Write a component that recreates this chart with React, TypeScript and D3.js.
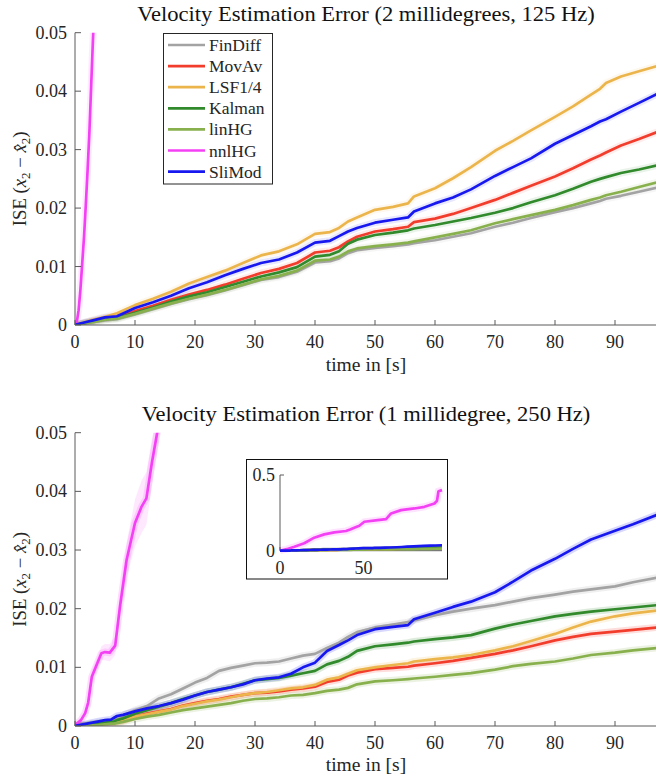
import React from 'react';
import * as d3 from 'd3';

const seriesNames = ['FinDiff', 'MovAv', 'LSF1/4', 'Kalman', 'linHG', 'nnlHG', 'SliMod'];
const seriesColors = ['#a3a3a3', '#f23d2d', '#ebb54c', '#318a2b', '#88b14d', '#f440f4', '#1717f0'];

const xTicks = [0, 10, 20, 30, 40, 50, 60, 70, 80, 90];
const yTicks = [0, 0.01, 0.02, 0.03, 0.04, 0.05];
const yTickLabels = ['0', '0.01', '0.02', '0.03', '0.04', '0.05'];

// ---- Top panel (2 millidegrees, 125 Hz)
const timeTop = [0, 1, 3, 5, 7, 10, 13, 16, 19, 22, 25, 28, 31, 34, 37, 40, 42.5, 44, 45.5, 47, 50, 53, 55.5, 56.5, 60, 63, 66, 70, 73, 76, 80, 83, 86, 87.5, 88.5, 91, 94, 97];
const finDiffTop = [0, .0002, .0005, .0008, .0010, .0018, .0027, .0036, .0044, .0051, .0059, .0068, .0077, .0082, .0091, .0107, .0109, .0114, .0123, .0128, .0132, .0135, .0138, .0140, .0145, .0151, .0157, .0168, .0175, .0183, .0193, .0200, .0208, .0212, .0216, .0221, .0228, .0235];
const movAvTop = [0, .0002, .0007, .0011, .0014, .0024, .0033, .0043, .0052, .0060, .0069, .0079, .0089, .0096, .0106, .0124, .0127, .0133, .0143, .0151, .0160, .0164, .0168, .0176, .0182, .0190, .0200, .0214, .0226, .0238, .0254, .0268, .0283, .0290, .0295, .0307, .0318, .0330];
const lsfTop = [0, .0003, .0009, .0014, .0020, .0034, .0045, .0057, .0071, .0082, .0093, .0106, .0119, .0126, .0138, .0156, .0159, .0166, .0177, .0184, .0197, .0202, .0208, .0220, .0234, .0251, .0270, .0298, .0315, .0333, .0356, .0374, .0394, .0404, .0414, .0425, .0434, .0443];
const kalmanTop = [0, .0002, .0006, .0010, .0012, .0021, .0030, .0040, .0049, .0056, .0065, .0074, .0083, .0090, .0099, .0117, .0120, .0126, .0139, .0146, .0154, .0158, .0162, .0165, .0171, .0177, .0183, .0192, .0200, .0210, .0222, .0233, .0245, .0250, .0253, .0260, .0266, .0273];
const linHGTop = [0, .0002, .0005, .0009, .0011, .0019, .0028, .0037, .0045, .0052, .0060, .0069, .0078, .0084, .0093, .0110, .0112, .0117, .0126, .0131, .0135, .0138, .0141, .0143, .0150, .0156, .0162, .0174, .0181, .0188, .0197, .0205, .0214, .0218, .0222, .0228, .0236, .0244];
const sliModTop = [0, .0003, .0008, .0013, .0015, .0029, .0039, .0050, .0063, .0073, .0085, .0096, .0106, .0112, .0124, .0141, .0144, .0152, .0160, .0166, .0175, .0180, .0184, .0194, .0208, .0218, .0232, .0255, .0270, .0285, .0310, .0325, .0340, .0348, .0352, .0365, .0380, .0395];
const nnlTimeTop = [0, 0.3, 0.6, 0.9, 1.2, 1.5, 1.8, 2.1, 2.4, 2.7, 3.0, 3.5];
const nnlHGTop = [0, 0.0005, 0.0025, 0.0060, 0.0105, 0.0150, 0.0205, 0.0265, 0.0330, 0.0410, 0.0490, 0.0600];

// ---- Bottom panel (1 millidegree, 250 Hz)
const timeBottom = [0, 2, 4, 5, 6, 6.5, 7, 8, 10, 12, 14, 16, 18, 20, 22, 24, 26, 28, 30, 32, 34, 36, 38, 40, 42, 44, 45.5, 47, 50, 53, 55.5, 56.5, 60, 63, 66, 70, 73, 76, 80, 83, 86, 90, 93, 97];
const finDiffBottom = [0, .0002, .0005, .0006, .0008, .0010, .0013, .0018, .0027, .0034, .0047, .0054, .0064, .0074, .0082, .0094, .0099, .0103, .0107, .0108, .0110, .0115, .0120, .0123, .0133, .0142, .0152, .0160, .0168, .0173, .0177, .0180, .0189, .0195, .0200, .0206, .0212, .0218, .0224, .0229, .0233, .0238, .0245, .0253];
const movAvBottom = [0, .0001, .0003, .0004, .0005, .0006, .0007, .0009, .0016, .0021, .0025, .0029, .0035, .0039, .0043, .0046, .0050, .0053, .0056, .0057, .0059, .0062, .0064, .0067, .0075, .0079, .0086, .0091, .0097, .0099, .0101, .0103, .0107, .0111, .0116, .0123, .0129, .0136, .0146, .0152, .0157, .0161, .0164, .0168];
const lsfBottom = [0, .0001, .0003, .0004, .0005, .0006, .0007, .0009, .0016, .0020, .0024, .0028, .0034, .0038, .0042, .0045, .0049, .0053, .0056, .0058, .0061, .0064, .0066, .0070, .0079, .0083, .0089, .0095, .0100, .0104, .0107, .0110, .0114, .0117, .0121, .0129, .0136, .0145, .0157, .0168, .0178, .0187, .0192, .0197];
const kalmanBottom = [0, .0002, .0005, .0006, .0007, .0008, .0010, .0013, .0021, .0027, .0033, .0039, .0046, .0052, .0058, .0062, .0066, .0072, .0078, .0080, .0082, .0086, .0090, .0094, .0105, .0111, .0118, .0128, .0136, .0139, .0142, .0144, .0148, .0151, .0155, .0166, .0173, .0179, .0187, .0191, .0195, .0199, .0202, .0206];
const linHGBottom = [0, .0001, .0002, .0003, .0004, .0004, .0005, .0007, .0012, .0016, .0019, .0023, .0027, .0030, .0033, .0036, .0039, .0043, .0046, .0047, .0049, .0052, .0053, .0056, .0060, .0062, .0065, .0071, .0076, .0078, .0080, .0081, .0084, .0087, .0090, .0096, .0102, .0106, .0110, .0115, .0121, .0125, .0129, .0133];
const sliModBottom = [0, .0004, .0008, .0010, .0011, .0014, .0017, .0019, .0025, .0030, .0034, .0039, .0045, .0052, .0058, .0062, .0066, .0071, .0078, .0081, .0083, .0089, .0100, .0108, .0128, .0138, .0146, .0155, .0165, .0169, .0172, .0182, .0193, .0203, .0212, .0228, .0246, .0265, .0285, .0302, .0318, .0333, .0344, .0360];
const nnlTimeBottom = [0, 0.5, 1.0, 1.7, 2.2, 2.8, 3.6, 4.4, 5.0, 5.8, 6.7, 7.5, 8.6, 10.0, 11.1, 11.9, 12.8, 13.7, 14.5];
const nnlHGBottom = [0, .0006, .0010, .0022, .0040, .0084, .0104, .0124, .0126, .0125, .0137, .0204, .0283, .0346, .0374, .0388, .0448, .0500, .0560];
const nnlHGBottomSpread = [0, .0003, .0005, .0006, .0008, .0010, .0010, .0012, .0014, .0015, .0016, .0020, .0030, .0040, .0045, .0045, .0040, .0035, .0035];

// ---- Inset (full range of nnlHG, bottom panel)
const nnlTimeInset = [0, 4, 8.6, 14.5, 20.5, 26.5, 32.5, 39.5, 42, 44.5, 47.5, 50.5, 58.5, 63.5, 66.5, 72.5, 80.5, 86.5, 92.5, 94, 94.9, 97];
const nnlHGInset = [0, .010, .026, .049, .086, .108, .121, .130, .140, .152, .165, .191, .202, .209, .246, .268, .279, .290, .312, .330, .393, .400];
const insetXTicks = [0, 50];
const insetYTicks = [0, 0.5];
const insetYTickLabels = ['0', '0.5'];

const FONT = "'Liberation Serif', 'Times New Roman', serif";
const TXT = '#262626';
const AXIS = '#5a5a5a';

type Pt = [number, number];
const zip = (t: number[], v: number[]): Pt[] => t.map((x, i) => [x, v[i]]);

function T(props: { x: number; y: number; size: number; sx?: number; anchor?: string; fill?: string; rotate?: number; children: React.ReactNode }) {
  const { x, y, size, sx = 1, anchor = 'start', fill = TXT, rotate = 0 } = props;
  return (
    <text transform={`translate(${x},${y}) rotate(${rotate}) scale(${sx},1)`} textAnchor={anchor as any}
      fontSize={size} fill={fill} fontFamily={FONT}>{props.children}</text>
  );
}

function Panel(props: {
  id: string; y0: number; y1: number; title: string; titleY: number; xLabelY: number;
  series: number[][]; time: number[]; nnlTime: number[]; nnl: number[]; nnlSpread?: number[];
  haloOpacity: number; children?: React.ReactNode;
}) {
  const { id, y0, y1, title, titleY, xLabelY, series, time, nnlTime, nnl, nnlSpread, haloOpacity } = props;
  const x = d3.scaleLinear().domain([0, 97]).range([75, 657]);
  const y = d3.scaleLinear().domain([0, 0.05]).range([y0, y1]);
  const line = d3.line<Pt>().x(d => x(d[0])).y(d => y(d[1]));
  const cy = (y0 + y1) / 2;
  const paths: { d: string; color: string }[] = [];
  [0, 1, 2, 3, 4, 5, 6].forEach(i => {
    if (i === 5) paths.push({ d: line(zip(nnlTime, nnl)) || '', color: seriesColors[5] });
    else {
      const idx = i < 5 ? i : 5;
      paths.push({ d: line(zip(time, series[idx])) || '', color: seriesColors[i] });
    }
  });
  const band = nnlSpread
    ? d3.area<number>().x((_, i) => x(nnlTime[i])).y0((d, i) => y(d - nnlSpread[i])).y1((d, i) => y(d + nnlSpread[i]))(nnl)
    : null;
  return (
    <g>
      <defs>
        <clipPath id={id}>
          <rect x={75} y={y1} width={582} height={y0 - y1} />
        </clipPath>
      </defs>
      <T x={366} y={titleY} size={20.5} sx={1.1} anchor="middle" fill="#111">{title}</T>
      <g clipPath={`url(#${id})`}>
        {band && <path d={band} fill={seriesColors[5]} opacity={0.12} />}
        {paths.map((p, i) => (
          <path key={'h' + i} d={p.d} fill="none" stroke={p.color} strokeWidth={7} strokeOpacity={haloOpacity} strokeLinejoin="round" />
        ))}
        {paths.map((p, i) => (
          <path key={'l' + i} d={p.d} fill="none" stroke={p.color} strokeWidth={2.7} strokeLinejoin="round" />
        ))}
      </g>
      <line x1={75} x2={657} y1={y0} y2={y0} stroke={AXIS} strokeWidth={1} />
      <line x1={75} x2={75} y1={y0} y2={y1} stroke={AXIS} strokeWidth={1} />
      {xTicks.map(t => (
        <g key={'xt' + t}>
          <line x1={x(t)} x2={x(t)} y1={y0} y2={y0 - 5} stroke={AXIS} />
          <T x={x(t)} y={y0 + 23} size={18} anchor="middle">{t}</T>
        </g>
      ))}
      {yTicks.map((t, i) => (
        <g key={'yt' + i}>
          <line x1={75} x2={81} y1={y(t)} y2={y(t)} stroke={AXIS} />
          <T x={67} y={y(t) + 6} size={18} anchor="end">{yTickLabels[i]}</T>
        </g>
      ))}
      <T x={366} y={xLabelY} size={18.5} sx={1.06} anchor="middle">time in [s]</T>
      <text transform={`translate(26,${cy}) rotate(-90) scale(1.04,1)`} textAnchor="middle" fontSize={18} fill={TXT} fontFamily={FONT}>
        <tspan>{'ISE ('}</tspan>
        <tspan fontStyle="italic">{'x'}</tspan>
        <tspan fontSize={12.5} dy={4}>{'2'}</tspan>
        <tspan dy={-4}>{' \u2212 '}</tspan>
        <tspan fontStyle="italic">{'x\u0302'}</tspan>
        <tspan fontSize={12.5} dy={4}>{'2'}</tspan>
        <tspan dy={-4}>{')'}</tspan>
      </text>
      {props.children}
    </g>
  );
}

function Legend() {
  return (
    <g>
      <rect x={163.5} y={33.5} width={109} height={150.5} fill="#fff" stroke={TXT} strokeWidth={1} />
      {seriesNames.map((n, i) => (
        <g key={n}>
          <line x1={168} x2={205} y1={45 + i * 21.1} y2={45 + i * 21.1} stroke={seriesColors[i]} strokeWidth={2.7} />
          <T x={209} y={45 + i * 21.1 + 6} size={17.5}>{n}</T>
        </g>
      ))}
    </g>
  );
}

function Inset() {
  const x = d3.scaleLinear().domain([0, 97]).range([280, 442]);
  const y = d3.scaleLinear().domain([0, 0.5]).range([550.7, 475]);
  const line = d3.line<Pt>().x(d => x(d[0])).y(d => y(d[1]));
  const others = [finDiffBottom, movAvBottom, lsfBottom, kalmanBottom, linHGBottom];
  return (
    <g>
      <rect x={246.5} y={459.5} width={201} height={119.5} fill="#fff" stroke="#111" strokeWidth={1} />
      <line x1={280} x2={442} y1={550.7} y2={550.7} stroke={AXIS} />
      <line x1={280} x2={280} y1={550.7} y2={475} stroke={AXIS} />
      {insetXTicks.map(t => (
        <g key={'ixt' + t}>
          <line x1={x(t)} x2={x(t)} y1={550.7} y2={547} stroke={AXIS} />
          <T x={x(t)} y={574} size={18} anchor="middle">{t}</T>
        </g>
      ))}
      {insetYTicks.map((t, i) => (
        <g key={'iyt' + i}>
          <line x1={280} x2={284} y1={y(t)} y2={y(t)} stroke={AXIS} />
          <T x={275} y={y(t) + 6} size={18} anchor="end">{insetYTickLabels[i]}</T>
        </g>
      ))}
      <path d={line(zip(nnlTimeInset, nnlHGInset)) || ''} fill="none" stroke={seriesColors[5]} strokeWidth={7} strokeOpacity={0.15} />
      {others.map((s, i) => (
        <path key={i} d={line(zip(timeBottom, s)) || ''} fill="none" stroke={seriesColors[i]} strokeWidth={2.7} />
      ))}
      <path d={line(zip(nnlTimeInset, nnlHGInset)) || ''} fill="none" stroke={seriesColors[5]} strokeWidth={2.7} strokeLinejoin="round" />
      <path d={line(zip(timeBottom, sliModBottom)) || ''} fill="none" stroke={seriesColors[6]} strokeWidth={2.7} />
    </g>
  );
}

export default function App() {
  return (
    <svg width={656} height={780} style={{ position: 'absolute', left: 0, top: 0, background: '#fff' }}>
      <rect x={0} y={0} width={656} height={780} fill="#fff" />
      <Panel id="clipTop" y0={325} y1={32.7} title="Velocity Estimation Error (2 millidegrees, 125 Hz)" titleY={21}
        xLabelY={371} series={[finDiffTop, movAvTop, lsfTop, kalmanTop, linHGTop, sliModTop]} time={timeTop}
        nnlTime={nnlTimeTop} nnl={nnlHGTop} haloOpacity={0.1}>
        <Legend />
      </Panel>
      <Panel id="clipBottom" y0={726} y1={432.7} title="Velocity Estimation Error (1 millidegree, 250 Hz)" titleY={421}
        xLabelY={771} series={[finDiffBottom, movAvBottom, lsfBottom, kalmanBottom, linHGBottom, sliModBottom]} time={timeBottom}
        nnlTime={nnlTimeBottom} nnl={nnlHGBottom} nnlSpread={nnlHGBottomSpread} haloOpacity={0.17}>
        <Inset />
      </Panel>
    </svg>
  );
}
